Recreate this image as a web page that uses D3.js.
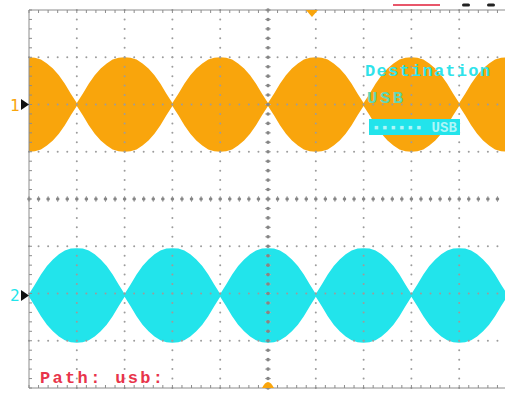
<!DOCTYPE html>
<html>
<head>
<meta charset="utf-8">
<script src="https://cdn.jsdelivr.net/npm/d3@7"></script>
<style>
  html, body { margin: 0; padding: 0; background: #ffffff; overflow: hidden; }
  svg { display: block; }
</style>
</head>
<body>
<svg id="scope" width="505" height="394"></svg>
<script>
// Sample times along the horizontal axis, in divisions
const sampleTime = [
  0, 0.125, 0.25, 0.375, 0.5, 0.625, 0.75, 0.875,
  1, 1.125, 1.25, 1.375, 1.5, 1.625, 1.75, 1.875,
  2, 2.125, 2.25, 2.375, 2.5, 2.625, 2.75, 2.875,
  3, 3.125, 3.25, 3.375, 3.5, 3.625, 3.75, 3.875,
  4, 4.125, 4.25, 4.375, 4.5, 4.625, 4.75, 4.875,
  5, 5.125, 5.25, 5.375, 5.5, 5.625, 5.75, 5.875,
  6, 6.125, 6.25, 6.375, 6.5, 6.625, 6.75, 6.875,
  7, 7.125, 7.25, 7.375, 7.5, 7.625, 7.75, 7.875,
  8, 8.125, 8.25, 8.375, 8.5, 8.625, 8.75, 8.875,
  9, 9.125, 9.25, 9.375, 9.5, 9.625, 9.75, 9.875,
  10, 10.125, 10.25, 10.375, 10.5
];
// Envelope half-height of channel 1 (divisions)
const ch1Envelope = [
  1.00, 0.99, 0.95, 0.87, 0.76, 0.62, 0.44, 0.23, 0.03, 0.23, 0.44, 0.62, 0.76, 0.87, 0.95, 0.99,
  1.00, 0.99, 0.95, 0.87, 0.76, 0.62, 0.44, 0.23, 0.03, 0.23, 0.44, 0.62, 0.76, 0.87, 0.95, 0.99,
  1.00, 0.99, 0.95, 0.87, 0.76, 0.62, 0.44, 0.23, 0.03, 0.23, 0.44, 0.62, 0.76, 0.87, 0.95, 0.99,
  1.00, 0.99, 0.95, 0.87, 0.76, 0.62, 0.44, 0.23, 0.03, 0.23, 0.44, 0.62, 0.76, 0.87, 0.95, 0.99,
  1.00, 0.99, 0.95, 0.87, 0.76, 0.62, 0.44, 0.23, 0.03, 0.23, 0.44, 0.62, 0.76, 0.87, 0.95, 0.99,
  1.00, 0.99, 0.95, 0.87, 0.76
];
// Envelope half-height of channel 2 (divisions)
const ch2Envelope = [
  0.03, 0.23, 0.44, 0.62, 0.76, 0.87, 0.95, 0.99, 1.00, 0.99, 0.95, 0.87, 0.76, 0.62, 0.44, 0.23,
  0.03, 0.23, 0.44, 0.62, 0.76, 0.87, 0.95, 0.99, 1.00, 0.99, 0.95, 0.87, 0.76, 0.62, 0.44, 0.23,
  0.03, 0.23, 0.44, 0.62, 0.76, 0.87, 0.95, 0.99, 1.00, 0.99, 0.95, 0.87, 0.76, 0.62, 0.44, 0.23,
  0.03, 0.23, 0.44, 0.62, 0.76, 0.87, 0.95, 0.99, 1.00, 0.99, 0.95, 0.87, 0.76, 0.62, 0.44, 0.23,
  0.03, 0.23, 0.44, 0.62, 0.76, 0.87, 0.95, 0.99, 1.00, 0.99, 0.95, 0.87, 0.76, 0.62, 0.44, 0.23,
  0.03, 0.23, 0.44, 0.62, 0.76
];
// Channel names and vertical offsets (divisions from screen centre)
const channelNames = ["1", "2"];
const channelOffsets = [2.0, -2.04];
const channelColors = ["#f9a50c", "#22e4eb"];

// Graticule: 10 x 8 divisions, 5 minor steps per division
const hDivisions = d3.range(0, 11);
const vDivisions = d3.range(-4, 5);
const minorStep = 0.2;

// On-screen messages
const destinationLabel = "Destination";
const destinationValue = "USB";
const progressLabel = "\u25aa\u25aa\u25aa\u25aa\u25aa\u25aa USB";
const pathLabel = "Path: usb:";

const svg = d3.select("#scope");
const x = d3.scaleLinear().domain([0, 10]).range([29, 507]);
const y = d3.scaleLinear().domain([-4, 4]).range([388, 10]);

svg.append("defs").append("clipPath").attr("id", "screen")
  .append("rect")
  .attr("x", x(0)).attr("y", y(4))
  .attr("width", x(10) - x(0)).attr("height", y(-4) - y(4));

// --- Waveforms (dense carrier drawn as its filled envelope)
const envelopes = [ch1Envelope, ch2Envelope];
const traces = svg.append("g").attr("clip-path", "url(#screen)");
envelopes.forEach((env, i) => {
  const pts = sampleTime.map((t, k) => ({ t, a: env[k] }));
  const area = d3.area()
    .curve(d3.curveLinear)
    .x(d => x(d.t))
    .y0(d => y(channelOffsets[i] - d.a))
    .y1(d => y(channelOffsets[i] + d.a));
  traces.append("path").datum(pts)
    .attr("d", area)
    .attr("fill", channelColors[i]);
});

// --- Graticule dots
const grid = svg.append("g");
const minorX = d3.range(0, 10 + 1e-6, minorStep);
const minorY = d3.range(-4, 4 + 1e-6, minorStep);

hDivisions.filter(d => d > 0 && d < 10 && d !== 5).forEach(d => {
  grid.selectAll(null).data(minorY).join("circle")
    .attr("cx", x(d)).attr("cy", v => y(v)).attr("r", 1)
    .attr("fill", "#9c9c9c");
});
vDivisions.filter(d => d > -4 && d < 4 && d !== 0).forEach(d => {
  grid.selectAll(null).data(minorX).join("circle")
    .attr("cx", h => x(h)).attr("cy", y(d)).attr("r", 1)
    .attr("fill", "#9c9c9c");
});

// Centre cross-hair: heavier dots with small cross ticks
grid.selectAll(null).data(minorY).join("line")
  .attr("x1", x(5) - 3).attr("x2", x(5) + 3)
  .attr("y1", v => y(v)).attr("y2", v => y(v))
  .attr("stroke", "#b0b0b0").attr("stroke-width", 1);
grid.selectAll(null).data(minorY).join("circle")
  .attr("cx", x(5)).attr("cy", v => y(v)).attr("r", 1.8).attr("fill", "#858585");
grid.selectAll(null).data(minorX).join("line")
  .attr("x1", h => x(h)).attr("x2", h => x(h))
  .attr("y1", y(0) - 3).attr("y2", y(0) + 3)
  .attr("stroke", "#b0b0b0").attr("stroke-width", 1);
grid.selectAll(null).data(minorX).join("circle")
  .attr("cx", h => x(h)).attr("cy", y(0)).attr("r", 1.8).attr("fill", "#858585");

// --- Screen border with minor ticks
const frame = svg.append("g").attr("stroke", "#8c8c8c").attr("stroke-width", 1);
frame.append("line").attr("x1", x(0)).attr("x2", x(10)).attr("y1", y(4)).attr("y2", y(4));
frame.append("line").attr("x1", x(0)).attr("x2", x(10)).attr("y1", y(-4)).attr("y2", y(-4));
frame.append("line").attr("x1", x(0)).attr("x2", x(0)).attr("y1", y(4)).attr("y2", y(-4));
frame.selectAll(null).data(minorX).join("line")
  .attr("x1", h => x(h)).attr("x2", h => x(h))
  .attr("y1", y(4)).attr("y2", y(4) + 3);
frame.selectAll(null).data(minorX).join("line")
  .attr("x1", h => x(h)).attr("x2", h => x(h))
  .attr("y1", y(-4)).attr("y2", y(-4) - 3);
frame.selectAll(null).data(minorY).join("line")
  .attr("x1", x(0)).attr("x2", x(0) + 3)
  .attr("y1", v => y(v)).attr("y2", v => y(v));

// --- Channel ground markers
channelNames.forEach((name, i) => {
  const cy = y(channelOffsets[i]);
  svg.append("text")
    .attr("x", 10).attr("y", cy + 6)
    .attr("font-family", "DejaVu Sans Mono, monospace")
    .attr("font-size", 16)
    .attr("fill", channelColors[i])
    .text(name);
  svg.append("path")
    .attr("d", `M21,${cy - 5.5}L29,${cy}L21,${cy + 5.5}Z`)
    .attr("fill", "#111");
});

// --- Trigger markers
svg.append("path")
  .attr("d", `M${x(5.92) - 6},${y(4)} L${x(5.92) + 6},${y(4)} L${x(5.92)},${y(4) + 7}Z`)
  .attr("fill", channelColors[0]);
svg.append("path")
  .attr("d", `M${x(5) - 6},${y(-4)} Q${x(5)},${y(-4) - 12} ${x(5) + 6},${y(-4)}Z`)
  .attr("fill", channelColors[0]);

// --- Status bar fragments above the screen
svg.append("line").attr("x1", 393).attr("x2", 440).attr("y1", 5).attr("y2", 5)
  .attr("stroke", "#e8566a").attr("stroke-width", 2);
svg.append("rect").attr("x", 462).attr("y", 3.5).attr("width", 8).attr("height", 3).attr("rx", 1.5).attr("fill", "#222");
svg.append("rect").attr("x", 487).attr("y", 3.5).attr("width", 8).attr("height", 3).attr("rx", 1.5).attr("fill", "#222");

// --- Save dialog text
const mono = "Liberation Mono, DejaVu Sans Mono, monospace";
svg.append("text")
  .attr("x", 365).attr("y", 76)
  .attr("font-family", mono).attr("font-size", 17).attr("font-weight", "bold")
  .attr("textLength", 125).attr("lengthAdjust", "spacing")
  .attr("fill", "#2fe3ea")
  .text(destinationLabel);
svg.append("text")
  .attr("x", 367).attr("y", 103)
  .attr("font-family", mono).attr("font-size", 17).attr("font-weight", "bold")
  .attr("textLength", 36).attr("lengthAdjust", "spacing")
  .attr("fill", "#62d6b4")
  .text(destinationValue);
svg.append("rect")
  .attr("x", 369).attr("y", 119).attr("width", 91).attr("height", 16)
  .attr("fill", "#22e4eb");
svg.append("text")
  .attr("x", 372).attr("y", 132)
  .attr("font-family", mono).attr("font-size", 14).attr("font-weight", "bold")
  .attr("textLength", 85).attr("lengthAdjust", "spacing")
  .attr("fill", "#aef6f8")
  .text(progressLabel);

svg.append("text")
  .attr("x", 40).attr("y", 383)
  .attr("font-family", mono).attr("font-size", 17).attr("font-weight", "bold")
  .attr("textLength", 123).attr("lengthAdjust", "spacing")
  .attr("fill", "#e8344a")
  .text(pathLabel);
</script>
</body>
</html>
